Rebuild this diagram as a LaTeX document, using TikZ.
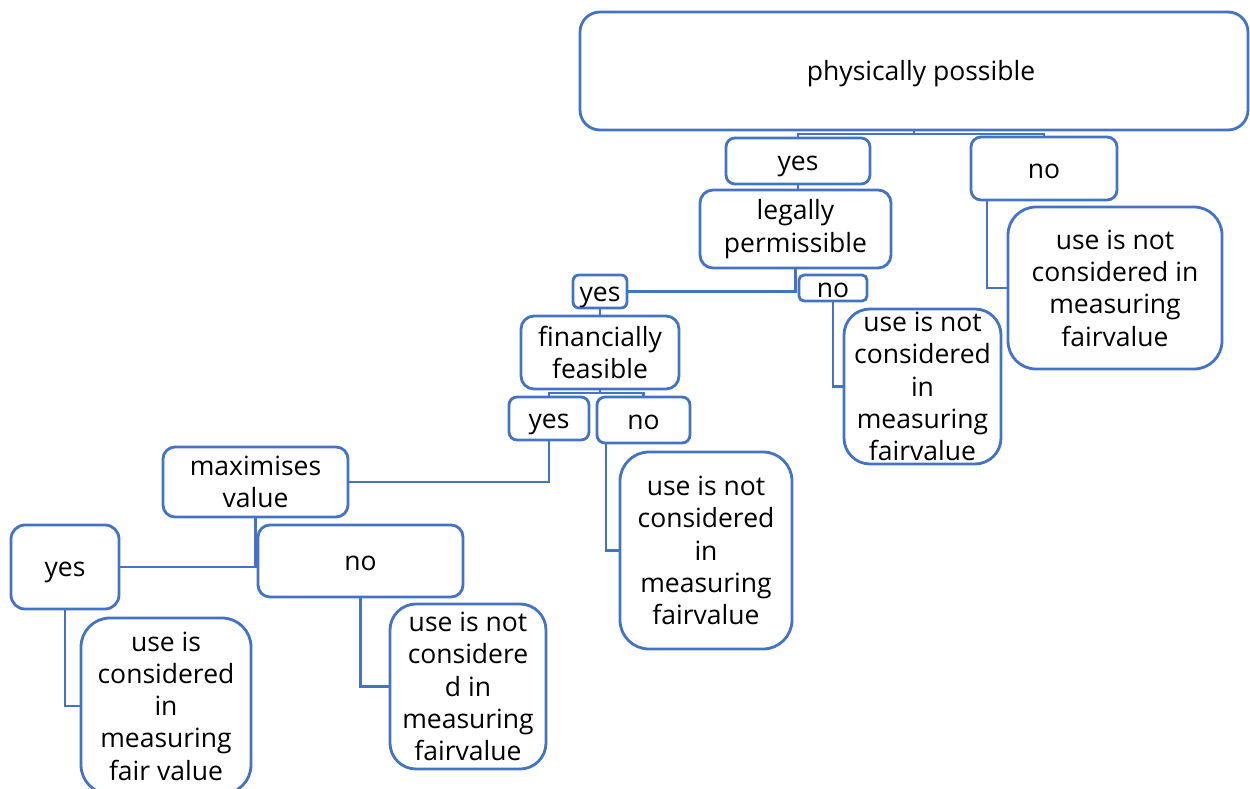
\documentclass[tikz,border=0pt]{standalone}
\usepackage{fontspec}
\setmainfont{Open Sans}
\definecolor{boxblue}{RGB}{68,114,196}
\newcommand\boxfont{\fontsize{26.5}{32.3}\selectfont}
% \flowbox{name}{x1}{y1}{x2}{y2}{corner radius}{text}  -- several lines
\newcommand\flowbox[7]{%
  \node[box, rounded corners=#6pt,
        minimum width={(#4-#2)*1pt}, minimum height={(#5-#3)*1pt}]
    (#1) at ({(#2+#4)/2},{(#3+#5)/2}) {};
  \node[lbl] (#1-t) at (#1.center) {#7};
}
% \flowword: same, for a one-line text held to a fixed height and depth
\newcommand\flowword[8][0]{%
  \node[box, rounded corners=#7pt,
        minimum width={(#5-#3)*1pt}, minimum height={(#6-#4)*1pt}]
    (#2) at ({(#3+#5)/2},{(#4+#6)/2}) {};
  \node[lbl, text height=19pt, text depth=6pt, xshift=#1pt, yshift=-3pt]
    (#2-t) at (#2.center) {#8};
}
\tikzset{
  box/.style={draw=boxblue, line width=2.8pt, fill=white, inner sep=0pt, outer sep=0pt},
  lbl/.style={font=\boxfont, align=center, text=black, inner sep=0pt},
  link/.style={draw=boxblue, line width=2.8pt}
}
\begin{document}
\begin{tikzpicture}[x=1pt, y=-1pt]
\useasboundingbox (0,0) rectangle (1250,789);
\fill[white] (0,0) rectangle (1250,789);

% top question
\flowword[7]{pp}{580}{12}{1248}{130}{20}{physically possible}
\flowword{yesA}{726}{138}{870}{184}{9}{yes}
\flowword{noA}{971}{137}{1117}{200}{10}{no}
\flowbox{legal}{700}{190}{891}{268}{13}{legally\\permissible}
\flowbox{nouseA}{1008}{207}{1222}{369}{28}{use is not\\considered in\\measuring\\fairvalue}

% legal branch
\flowword{yesB}{573}{275}{627}{308}{6}{yes}
\flowword{noB}{799}{275}{867}{301}{5}{no}
\flowbox{nouseB}{844}{309}{1001}{464}{26}{use is not\\considered\\in\\measuring\\fairvalue}
\flowbox{ff}{521}{316}{679}{389}{13}{financially\\feasible}

% financial branch
\flowword{yesC}{509}{397}{589}{440}{8}{yes}
\flowword{noC}{597}{397}{690}{443}{8}{no}
\flowbox{nouseC}{620}{452}{792}{649}{29}{use is not\\considered\\in\\measuring\\fairvalue}
\flowbox{maxv}{163}{447}{348}{517}{12}{maximises\\value}

% value branch
\flowword{yesD}{11}{525}{119}{609}{14}{yes}
\flowword{noD}{258}{525}{463}{597}{12}{no}
\flowbox{cons}{81}{618}{251}{794}{29}{use is\\considered\\in\\measuring\\fair value}
\flowbox{nouseD}{390}{604}{546}{769}{26}{use is not\\considere\\d in\\measuring\\fairvalue}

% connectors
\draw[link] (pp.south) -- ++(0,4) -| (yesA.north);
\draw[link] (pp.south) -- ++(0,4) -| (noA.north);
\draw[link] (yesA.south) -- (yesA.south |- legal.north);
\draw[link] ([xshift=16pt]noA.south west) |- (nouseA.west);
\draw[link] (legal.south) |- (yesB.east);
\draw[link] (noB.south) |- (nouseB.west);
\draw[link] (yesB.south) -- (yesB.south |- ff.north);
\draw[link] (ff.south) -- ++(0,4) -| (yesC.north);
\draw[link] (ff.south) -- ++(0,4) -| (noC.north);
\draw[link] (yesC.south) |- (maxv.east);
\draw[link] ([xshift=9pt]noC.south west) |- (nouseC.west);
\draw[link] (maxv.south) |- (yesD.east);
\draw[link] (yesD.south) |- (cons.west);
\draw[link] (noD.south) |- (nouseD.west);
\end{tikzpicture}
\end{document}
